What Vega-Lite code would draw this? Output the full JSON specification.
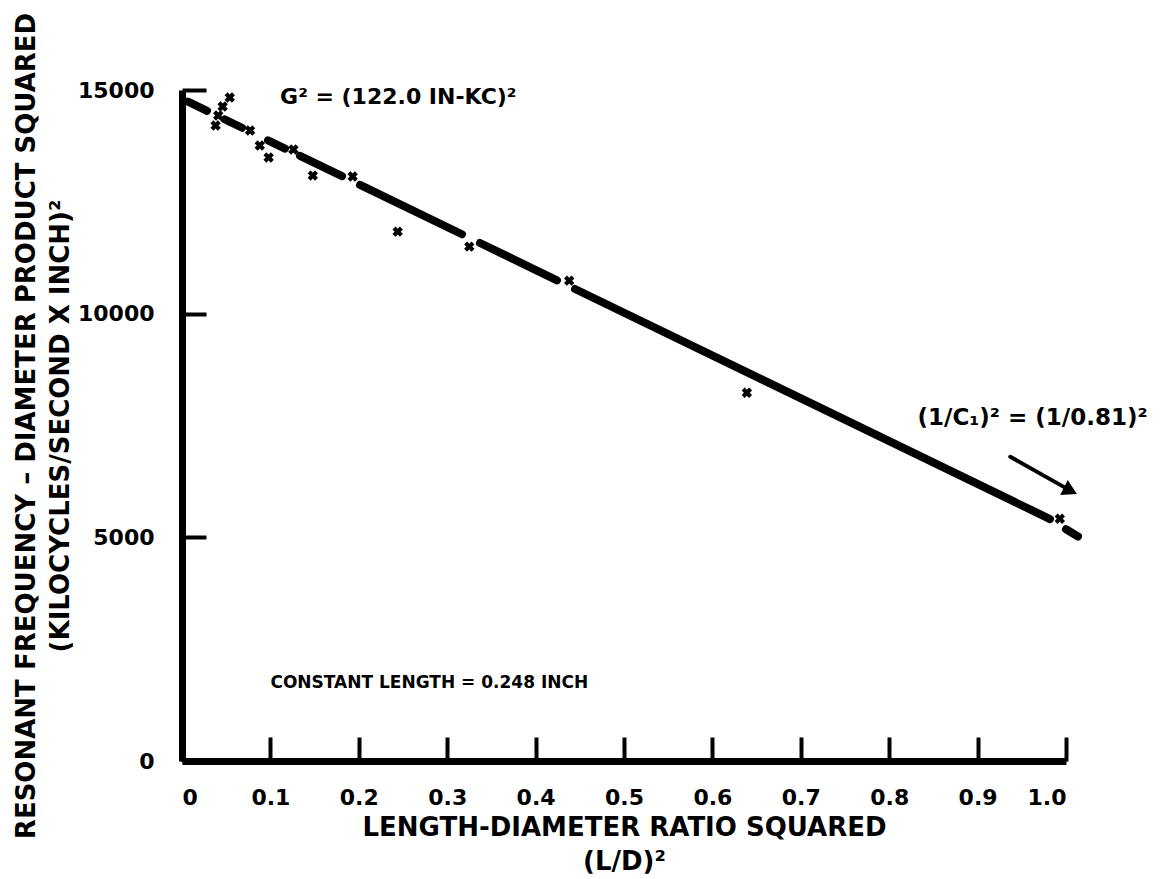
{
  "$schema": "https://vega.github.io/schema/vega-lite/v6.json",
  "width": 884,
  "height": 671,
  "autosize": "none",
  "padding": {"left": 182, "top": 90, "right": 110, "bottom": 118},
  "background": "white",
  "config": {
    "view": {"stroke": null},
    "font": "DejaVu Sans",
    "axis": {
      "domainColor": "black",
      "domainWidth": 7,
      "tickColor": "black",
      "tickWidth": 4,
      "tickSize": -24,
      "grid": false,
      "labelFont": "DejaVu Sans",
      "labelFontWeight": "bold",
      "labelFontSize": 22,
      "labelColor": "black",
      "titleFont": "DejaVu Sans",
      "titleFontWeight": "bold",
      "titleFontSize": 26,
      "titleColor": "black",
      "titleLineHeight": 34
    }
  },
  "encoding": {
    "x": {
      "field": "x",
      "type": "quantitative",
      "scale": {"domain": [0, 1], "nice": false, "zero": false},
      "axis": {
        "values": [0, 0.1, 0.2, 0.3, 0.4, 0.5, 0.6, 0.7, 0.8, 0.9, 1.0],
        "labelExpr": "datum.value == 0 ? '0' : format(datum.value, '.1f')",
        "labelPadding": 50,
        "title": ["LENGTH-DIAMETER RATIO SQUARED", "(L/D)²"],
        "titlePadding": 6
      }
    },
    "y": {
      "field": "y",
      "type": "quantitative",
      "scale": {"domain": [0, 15000], "nice": false, "zero": false},
      "axis": {
        "values": [0, 5000, 10000, 15000],
        "format": "d",
        "labelPadding": 52,
        "title": ["RESONANT FREQUENCY – DIAMETER PRODUCT SQUARED", "(KILOCYCLES/SECOND X INCH)²"],
        "titlePadding": 4
      }
    }
  },
  "layer": [
    {
      "data": {"values": [
        {"x": 0.0068, "y": 14741, "seg": 1}, {"x": 0.0283, "y": 14535, "seg": 1},
        {"x": 0.0486, "y": 14341, "seg": 2}, {"x": 0.0679, "y": 14156, "seg": 2},
        {"x": 0.0973, "y": 13875, "seg": 3}, {"x": 0.1165, "y": 13691, "seg": 3},
        {"x": 0.1335, "y": 13528, "seg": 4}, {"x": 0.1810, "y": 13074, "seg": 4},
        {"x": 0.2014, "y": 12879, "seg": 5}, {"x": 0.3167, "y": 11775, "seg": 5},
        {"x": 0.3371, "y": 11580, "seg": 6}, {"x": 0.4242, "y": 10746, "seg": 6},
        {"x": 0.4446, "y": 10551, "seg": 7}, {"x": 0.9819, "y": 5409, "seg": 7},
        {"x": 1.0, "y": 5180, "seg": 8}, {"x": 1.0136, "y": 5020, "seg": 8}
      ]},
      "mark": {"type": "line", "color": "black", "strokeWidth": 8, "strokeCap": "round"},
      "encoding": {"detail": {"field": "seg", "type": "nominal"}}
    },
    {
      "data": {"values": [
        {"x": 0.038, "y": 14206}, {"x": 0.041, "y": 14430}, {"x": 0.046, "y": 14631},
        {"x": 0.054, "y": 14832}, {"x": 0.077, "y": 14094}, {"x": 0.088, "y": 13758},
        {"x": 0.098, "y": 13490}, {"x": 0.126, "y": 13669}, {"x": 0.148, "y": 13087},
        {"x": 0.193, "y": 13065}, {"x": 0.244, "y": 11834}, {"x": 0.325, "y": 11499},
        {"x": 0.438, "y": 10738}, {"x": 0.639, "y": 8233}, {"x": 0.993, "y": 5414}
      ]},
      "mark": {"type": "point", "shape": "cross", "angle": 45, "filled": true, "color": "black", "size": 110, "opacity": 1}
    },
    {
      "data": {"values": [{"x": 0.937, "y": 6801, "x2": 1.0, "y2": 6100}]},
      "mark": {"type": "rule", "color": "black", "strokeWidth": 4, "strokeCap": "round"},
      "encoding": {"x2": {"field": "x2"}, "y2": {"field": "y2"}}
    },
    {
      "data": {"values": [{"x": 1.005, "y": 6040}]},
      "mark": {"type": "point", "shape": "triangle-right", "angle": 27, "filled": true, "color": "black", "size": 280, "opacity": 1}
    },
    {
      "data": {"values": [
        {"x": 0.111, "y": 14854, "label": "G² = (122.0 IN-KC)²", "fs": 22},
        {"x": 0.832, "y": 7673, "label": "(1/C₁)² = (1/0.81)²", "fs": 23},
        {"x": 0.100, "y": 1745, "label": "CONSTANT LENGTH = 0.248 INCH", "fs": 17}
      ]},
      "mark": {"type": "text", "align": "left", "baseline": "middle", "font": "DejaVu Sans", "fontWeight": "bold", "color": "black"},
      "encoding": {
        "text": {"field": "label"},
        "size": {"field": "fs", "type": "quantitative", "scale": null, "legend": null}
      }
    }
  ]
}
